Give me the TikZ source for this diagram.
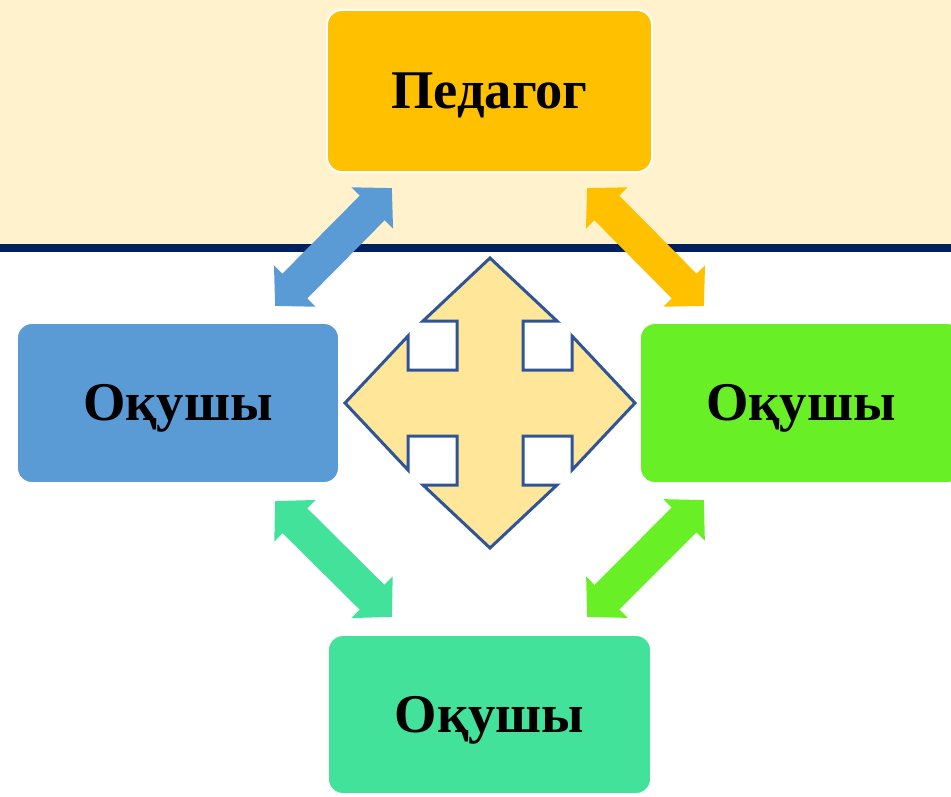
\documentclass[tikz,border=0pt]{standalone}
\usepackage{fontspec}
\setmainfont{Liberation Serif}
\usetikzlibrary{arrows.meta,calc}
\definecolor{cream}{HTML}{FFF2CC}
\definecolor{navy}{HTML}{002060}
\definecolor{boxorange}{HTML}{FFC000}
\definecolor{boxblue}{HTML}{5B9BD5}
\definecolor{boxgreen}{HTML}{69EF26}
\definecolor{boxteal}{HTML}{42E29B}
\definecolor{crossfill}{HTML}{FFE699}
\definecolor{crossline}{HTML}{2F5597}

\begin{document}
\begin{tikzpicture}[x=.01cm,y=-.01cm,
  box/.style={rounded corners=.15cm,draw=white,line width=.02cm,minimum width=3.22cm,minimum height=1.6cm,text height=10.2pt,text depth=0pt,font=\fontsize{15.5}{18}\selectfont\bfseries},
  link/.style={line width=.35cm,{Triangle[width=.57cm,length=.28cm]}-{Triangle[width=.57cm,length=.28cm]}}]
\clip (0,0) rectangle (951,796);
\fill[cream] (0,0) rectangle (951,248);
\fill[navy] (0,244) rectangle (951,252);
\node[box,fill=boxorange,minimum width=3.25cm,minimum height=1.62cm] (ped) at (489.5,91) {Педагог};
\node[box,fill=boxblue] (left) at (178,403) {Оқушы};
\node[box,fill=boxgreen] (right) at (801,403) {Оқушы};
\node[box,fill=boxteal,minimum width=3.23cm,minimum height=1.59cm] (bottom) at (489.5,714.5) {Оқушы};
\draw[link,boxblue] ($(left.north east)+(-65,-16)$) -- ($(ped.south west)+(66,15)$);
\draw[link,boxorange] ($(ped.south east)+(-66,15)$) -- ($(right.north west)+(65,-16)$);
\draw[link,boxteal] ($(left.south east)+(-65,17)$) -- ($(bottom.north west)+(65,-17)$);
\draw[link,boxgreen] ($(right.south west)+(65,16)$) -- ($(bottom.north east)+(-65,-17)$);
\begin{scope}[shift={(490,403)}]
\draw[fill=crossfill,draw=crossline,line width=.03cm] (0,-145) -- (67,-82) -- (33,-82) -- (33,-33) -- (82,-33) -- (82,-67) -- (145,0) -- (82,67) -- (82,33) -- (33,33) -- (33,82) -- (67,82) -- (0,145) -- (-67,82) -- (-33,82) -- (-33,33) -- (-82,33) -- (-82,67) -- (-145,0) -- (-82,-67) -- (-82,-33) -- (-33,-33) -- (-33,-82) -- (-67,-82) -- cycle;
\end{scope}
\end{tikzpicture}
\end{document}
